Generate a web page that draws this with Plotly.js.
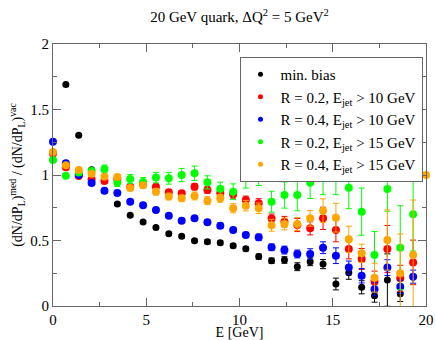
<!DOCTYPE html>
<html>
<head>
<meta charset="utf-8">
<script src="https://cdn.plot.ly/plotly-3.0.1.min.js"></script>
<style>
  body { margin: 0; background: #fff; }
  #plot { width: 436px; height: 340px; }
</style>
</head>
<body>
<div id="plot"></div>
<script>
// E bins [GeV]
var energy = [0, 0.69, 1.38, 2.07, 2.76, 3.45, 4.14, 4.83, 5.52, 6.21, 6.9, 7.59, 8.28, 8.97, 9.66,
  10.34, 11.03, 11.72, 12.41, 13.1, 13.79, 14.48, 15.17, 15.86, 16.55, 17.24, 17.93, 18.62, 19.31, 20];

// ratio med/vac
var minBias = [null, 1.69, 1.303, 1.04, 0.88, 0.778, 0.692, 0.642, 0.60, 0.552, 0.532, 0.499, 0.491, 0.483, 0.46,
  0.437, 0.377, 0.346, 0.351, 0.30, 0.338, 0.32, 0.168, 0.254, 0.143, 0.079, 0.198, 0.094, null, null];
var minBiasErr = [0, 0.01, 0.01, 0.01, 0.01, 0.01, 0.01, 0.01, 0.01, 0.012, 0.012, 0.012, 0.015, 0.015, 0.015,
  0.015, 0.02, 0.02, 0.025, 0.03, 0.03, 0.035, 0.045, 0.05, 0.05, 0.05, 0.2, 0.06, 0, 0];

var r02e10 = [1.165, 1.059, 0.993, 0.965, 0.954, 0.97, 0.911, 0.931, 0.911, 0.868, 0.86, 0.911, 0.885, 0.86, 0.853,
  0.809, 0.784, 0.667, 0.644, 0.618, 0.593, 0.669, 0.58, 0.435, 0.359, 0.186, 0.435, 0.211, 0.333, null];
var r02e10Err = [0.01, 0.01, 0.01, 0.01, 0.01, 0.015, 0.015, 0.015, 0.02, 0.02, 0.02, 0.025, 0.025, 0.03, 0.03,
  0.03, 0.035, 0.035, 0.04, 0.05, 0.05, 0.085, 0.09, 0.075, 0.08, 0.08, 0.18, 0.1, 0.17, 0];

var r04e10 = [1.254, 1.089, 1.0, 0.939, 0.879, 0.862, 0.796, 0.77, 0.733, 0.689, 0.651, 0.669, 0.639, 0.613, 0.58,
  0.542, 0.524, 0.448, 0.427, 0.397, 0.397, 0.445, 0.384, 0.293, 0.231, 0.127, 0.293, 0.147, 0.224, null];
var r04e10Err = [0.01, 0.01, 0.01, 0.01, 0.01, 0.01, 0.01, 0.01, 0.012, 0.012, 0.015, 0.015, 0.015, 0.02, 0.02,
  0.02, 0.025, 0.025, 0.03, 0.03, 0.04, 0.045, 0.06, 0.05, 0.055, 0.05, 0.06, 0.05, 0.05, 0];

var r02e15 = [1.114, 0.995, 1.02, 1.03, 1.046, 0.943, 0.969, 0.946, 0.98, 0.975, 1.0, 1.013, 0.944, 0.895, 0.872,
  1.0, 1.02, 0.796, 0.847, 0.847, 0.941, 1.0, 1.05, 0.903, 0.72, 0.389, 0.893, 0.445, 0.70, null];
var r02e15Err = [0.01, 0.015, 0.02, 0.02, 0.03, 0.03, 0.035, 0.035, 0.04, 0.045, 0.05, 0.055, 0.05, 0.05, 0.06,
  0.1, 0.1, 0.08, 0.1, 0.12, 0.12, 0.15, 0.2, 0.16, 0.18, 0.18, 0.17, 0.32, 0.28, 0];

var r04e15 = [1.175, 1.074, 1.038, 1.01, 0.987, 0.985, 0.9, 0.921, 0.873, 0.835, 0.822, 0.84, 0.804, 0.822, 0.746,
  0.766, 0.746, 0.616, 0.626, 0.626, 0.669, 0.728, 0.674, 0.509, 0.402, 0.216, 0.504, 0.25, 0.389, 1.0];
var r04e15Err = [0.01, 0.01, 0.01, 0.015, 0.015, 0.02, 0.02, 0.02, 0.025, 0.025, 0.025, 0.03, 0.03, 0.03, 0.035,
  0.04, 0.04, 0.045, 0.045, 0.05, 0.06, 0.09, 0.11, 0.1, 0.07, 0.11, 0.23, 0.3, 0.42, 0];

var names = ['min. bias', 'R = 0.2, E<sub>jet</sub> > 10 GeV', 'R = 0.4, E<sub>jet</sub> > 10 GeV',
  'R = 0.2, E<sub>jet</sub> > 15 GeV', 'R = 0.4, E<sub>jet</sub> > 15 GeV'];
var colors = ['#000000', '#ff0000', '#0000ff', '#00ff00', '#ffa500'];
var series = [minBias, r02e10, r04e10, r02e15, r04e15];
var errors = [minBiasErr, r02e10Err, r04e10Err, r02e15Err, r04e15Err];
var sizes = [7, 8, 8, 8, 8];

var data = [];
// the points with error bars
for (var i = 0; i < series.length; i++) {
  data.push({
    x: energy,
    y: series[i],
    type: 'scatter',
    mode: 'markers',
    showlegend: false,
    cliponaxis: false,
    marker: {color: colors[i], size: sizes[i]},
    error_y: {type: 'data', array: errors[i], color: colors[i], thickness: 1, width: 3}
  });
}
// small legend symbols, like the original
for (var j = 0; j < series.length; j++) {
  data.push({
    x: [null], y: [null],
    type: 'scatter', mode: 'markers',
    name: names[j],
    marker: {color: colors[j], size: 5}
  });
}

var serif = 'Liberation Serif, Times New Roman, serif';
var layout = {
  width: 436,
  height: 340,
  margin: {l: 53, r: 10, t: 44, b: 34},
  paper_bgcolor: '#fff',
  plot_bgcolor: '#fff',
  font: {family: serif, size: 15, color: '#000'},
  title: {
    text: '20 GeV quark, \u0394Q<sup>2</sup> = 5 GeV<sup>2</sup>',
    font: {family: serif, size: 15},
    xref: 'paper', x: 0.5, xanchor: 'center', y: 0.965
  },
  xaxis: {
    range: [0, 20],
    title: {text: 'E [GeV]', font: {size: 14}, standoff: 3},
    tickvals: [0, 5, 10, 15, 20],
    ticks: 'inside', ticklen: 8, tickcolor: '#666',
    minor: {dtick: 2.5, ticks: 'inside', ticklen: 4, tickcolor: '#666'},
    showgrid: false, zeroline: false,
    showline: true, linecolor: '#666', linewidth: 1, mirror: 'ticks'
  },
  yaxis: {
    range: [0, 2],
    title: {text: '(dN/dP<sub>L</sub>)<sup>med</sup> / (dN/dP<sub>L</sub>)<sup>vac</sup>', font: {size: 14}, standoff: 4},
    tickvals: [0, 0.5, 1, 1.5, 2],
    ticktext: ['0', '0.5', '1', '1.5', '2'],
    ticks: 'inside', ticklen: 8, tickcolor: '#666',
    minor: {dtick: 0.25, ticks: 'inside', ticklen: 4, tickcolor: '#666'},
    showgrid: false, zeroline: false,
    showline: true, linecolor: '#666', linewidth: 1, mirror: 'ticks'
  },
  legend: {
    x: 0.5, y: 0.95, xanchor: 'left', yanchor: 'top',
    bgcolor: '#fff', bordercolor: '#666', borderwidth: 1,
    font: {family: serif, size: 15},
    tracegroupgap: 0
  }
};

Plotly.newPlot('plot', data, layout, {displayModeBar: false});
</script>
</body>
</html>
